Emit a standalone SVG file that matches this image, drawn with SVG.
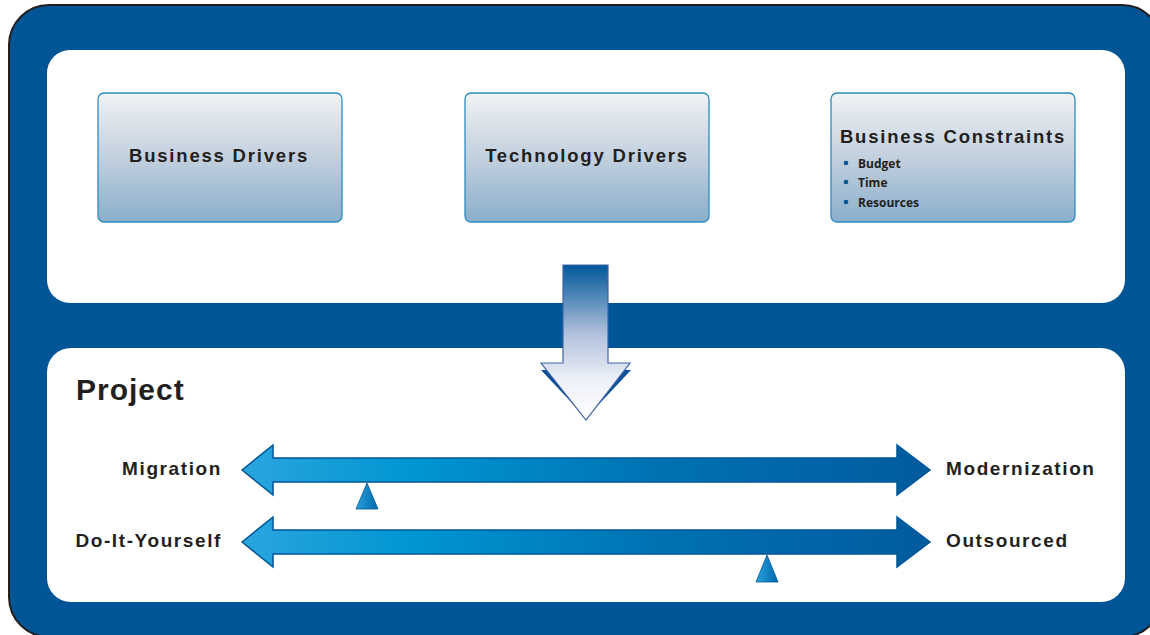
<svg xmlns="http://www.w3.org/2000/svg" width="1150" height="635" viewBox="0 0 1150 635">
<defs>
<linearGradient id="boxGrad" x1="0" y1="0" x2="0" y2="1">
<stop offset="0" stop-color="#f1f2f5"/>
<stop offset="0.5" stop-color="#c2d0de"/>
<stop offset="1" stop-color="#8aaecb"/>
</linearGradient>
<linearGradient id="downGrad" x1="0" y1="265" x2="0" y2="420" gradientUnits="userSpaceOnUse">
<stop offset="0" stop-color="#00579a"/>
<stop offset="0.45" stop-color="#b3c2dc"/>
<stop offset="0.75" stop-color="#eef1f8"/>
<stop offset="1" stop-color="#ffffff"/>
</linearGradient>
<linearGradient id="hGrad" x1="242" y1="0" x2="930" y2="0" gradientUnits="userSpaceOnUse">
<stop offset="0" stop-color="#2aa5de"/>
<stop offset="0.25" stop-color="#0096d2"/>
<stop offset="0.6" stop-color="#0072b4"/>
<stop offset="1" stop-color="#005b9e"/>
</linearGradient>
<linearGradient id="triGrad" x1="0" y1="0" x2="1" y2="0">
<stop offset="0" stop-color="#29a3dc"/>
<stop offset="1" stop-color="#0067ab"/>
</linearGradient>
<style>
.panel{fill:#ffffff}
.box{fill:url(#boxGrad);stroke:#2b8cc2;stroke-width:1.3}
.title{font-family:"Liberation Sans",Arial,sans-serif;font-weight:bold;font-size:18.5px;letter-spacing:1.8px;fill:#231f20}
.bullet{font-family:"Open Sans","Liberation Sans",sans-serif;font-weight:bold;font-size:12px;fill:#231f20}
.dot{fill:#005596}
.label{font-family:"Liberation Sans",Arial,sans-serif;font-weight:bold;font-size:19px;letter-spacing:1.6px;fill:#231f20}
.harrow{fill:url(#hGrad);stroke:#005596;stroke-width:1.5}
.tri{fill:url(#triGrad);stroke:#005596;stroke-width:0.8}
</style>
</defs>
<rect x="9" y="5" width="1153" height="632" rx="40" ry="40" fill="#005596" stroke="#231f20" stroke-width="2"/>
<rect class="panel" x="47" y="50" width="1078" height="253" rx="23" ry="23"/>
<rect class="panel" x="47" y="348" width="1078" height="254" rx="24" ry="24"/>

<g id="business-drivers">
<rect class="box" x="98" y="93" width="244" height="129" rx="6" ry="6"/>
<text class="title" x="219" y="162" text-anchor="middle">Business Drivers</text>
</g>
<g id="technology-drivers">
<rect class="box" x="465" y="93" width="244" height="129" rx="6" ry="6"/>
<text class="title" x="587" y="162" text-anchor="middle">Technology Drivers</text>
</g>
<g id="business-constraints">
<rect class="box" x="831" y="93" width="244" height="129" rx="6" ry="6"/>
<text class="title" x="953" y="143" text-anchor="middle">Business Constraints</text>
<circle class="dot" cx="846" cy="163" r="2.3"/>
<text class="bullet" x="858" y="168">Budget</text>
<circle class="dot" cx="846" cy="182" r="2.3"/>
<text class="bullet" x="858" y="187">Time</text>
<circle class="dot" cx="846" cy="202" r="2.3"/>
<text class="bullet" x="858" y="207">Resources</text>
</g>

<g id="project">
<text x="76" y="400" font-family="Liberation Sans, Arial, sans-serif" font-weight="bold" font-size="30" letter-spacing="1" fill="#231f20">Project</text>
</g>

<g id="connectors">
<polygon points="541,370 631,370 586,418" fill="#0a4f96"/>
<polygon points="563,265 608,265 608,363 630,363 586,420 541,363 563,363" fill="url(#downGrad)" stroke="#3f64a6" stroke-width="1.2"/>
<polygon class="harrow" points="242,470 273,445 273,458 897,458 897,445 930,470 897,495 897,482 273,482 273,495"/>
<polygon class="harrow" points="242,542 273,517 273,530 897,530 897,517 930,542 897,567 897,554 273,554 273,567"/>
</g>

<g id="migration-scale">
<text class="label" x="222" y="475" text-anchor="end">Migration</text>
<text class="label" x="946" y="475">Modernization</text>
<polygon class="tri" points="367,483 378,509 356,509"/>
</g>
<g id="sourcing-scale">
<text class="label" x="222" y="547" text-anchor="end">Do-It-Yourself</text>
<text class="label" x="946" y="547">Outsourced</text>
<polygon class="tri" points="767,555 778,582 756,582"/>
</g>
</svg>
